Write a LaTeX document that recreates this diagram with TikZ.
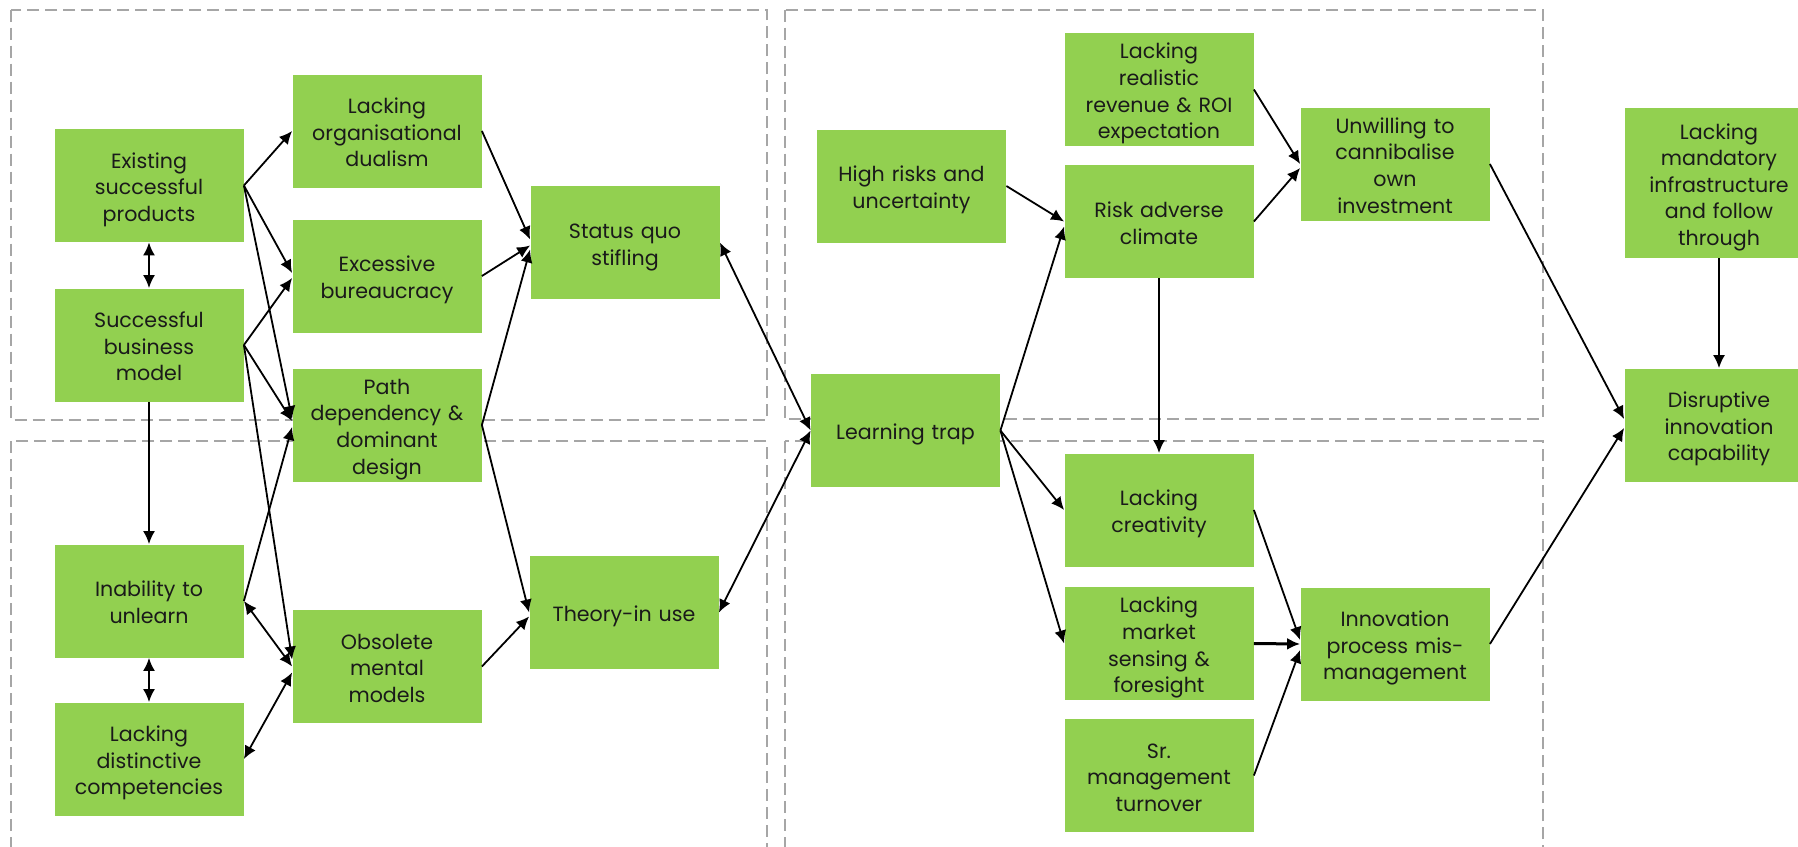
\documentclass[tikz,border=0pt]{standalone}
\usepackage{fontspec}
\setmainfont{Poppins}
\usetikzlibrary{arrows.meta,calc}
\definecolor{boxgreen}{HTML}{92D050}
\definecolor{dashgray}{HTML}{A6A6A6}
\definecolor{txt}{HTML}{1A1A1A}
\begin{document}
\begin{tikzpicture}[x=0.5pt,y=-0.5pt,
  box/.style={fill=boxgreen, draw=none, text=txt, align=center, inner sep=0pt,
    minimum width=94.5pt, minimum height=56.5pt, text width=93pt,
    font=\fontsize{10.3}{13.3}\selectfont,
    execute at begin node={\rule{0pt}{12.2pt}},
    execute at end node={\rule[-3pt]{0pt}{3pt}}},
  tall/.style={minimum height=75pt},
  arr/.style={line width=0.9pt, -{Latex[length=6.5pt,width=6pt]}},
  darr/.style={line width=0.9pt, {Latex[length=6.5pt,width=6pt]}-{Latex[length=6.5pt,width=6pt]}},
  region/.style={draw=dashgray, line width=1pt, dash pattern=on 6pt off 3pt}]
\useasboundingbox (0,0) rectangle (1798,846);
\clip (0,0) rectangle (1798,846);
\fill[white] (0,0) rectangle (1798,846);
% regions
\draw[region] (11,9.5) rectangle (766.5,420);
\draw[region] (11,441) rectangle (766.5,900);
\draw[region] (784.5,9.5) rectangle (1542.5,419);
\draw[region] (784.5,441) rectangle (1542.5,900);
% nodes
\node[box] (exist) at (149,185.5) {Existing\\successful\\products};
\node[box] (sbm) at (149,345) {Successful\\business\\model};
\node[box] (inab) at (149,601) {Inability to\\unlearn};
\node[box] (ldc) at (149,759) {Lacking\\distinctive\\competencies};
\node[box] (lod) at (387,131) {Lacking\\organisational\\dualism};
\node[box] (exb) at (387,276) {Excessive\\bureaucracy};
\node[box] (path) at (387,425) {Path\\dependency \&\\dominant\\design};
\node[box] (omm) at (387,666.5) {Obsolete\\mental\\models};
\node[box] (sqs) at (625,242.5) {Status quo\\stifling};
\node[box] (tiu) at (624,612.5) {Theory-in use};
\node[box] (ltrap) at (905.5,430.5) {Learning trap};
\node[box] (hrisk) at (911.5,186) {High risks and\\uncertainty};
\node[box] (lrr) at (1159,89.5) {Lacking\\realistic\\revenue \& ROI\\expectation};
\node[box] (rac) at (1159,221.5) {Risk adverse\\climate};
\node[box] (unw) at (1395,164) {Unwilling to\\cannibalise\\own\\investment};
\node[box,tall] (lmi) at (1719,183) {Lacking\\mandatory\\infrastructure\\and follow\\through};
\node[box] (dic) at (1719,425) {Disruptive\\innovation\\capability};
\node[box] (lcr) at (1159,510) {Lacking\\creativity};
\node[box] (lms) at (1159,643.5) {Lacking\\market\\sensing \&\\foresight};
\node[box] (srm) at (1159,775.5) {Sr.\\management\\turnover};
\node[box] (ipm) at (1395,644) {Innovation\\process mis-\\management};
% connectors
\draw[darr] (exist) -- (sbm);
\draw[arr] (sbm) -- (inab);
\draw[darr] (inab) -- (ldc);
\draw[arr] (exist.east) -- (lod.west);
\draw[arr] (exist.east) -- ($(exb.west)+(0,-3)$);
\draw[arr] (exist.east) -- ($(path.west)+(0,-6)$);
\draw[arr] (sbm.east) -- ($(exb.west)+(0,2)$);
\draw[arr] (sbm.east) -- ($(path.west)+(0,-4)$);
\draw[arr] (sbm.east) -- ($(omm.west)+(0,-7)$);
\draw[arr] (inab.east) -- ($(path.west)+(0,2)$);
\draw[darr] (inab.east) -- (omm.west);
\draw[darr] (ldc.east) -- ($(omm.west)+(0,6)$);
\draw[arr] (lod.east) -- ($(sqs.west)+(0,-3)$);
\draw[arr] (exb.east) -- ($(sqs.west)+(0,3)$);
\draw[arr] (path.east) -- ($(sqs.west)+(0,7)$);
\draw[arr] (path.east) -- (tiu.west);
\draw[arr] (omm.east) -- ($(tiu.west)+(0,4)$);
\draw[darr] (sqs.east) -- (ltrap.west);
\draw[darr] (tiu.east) -- (ltrap.west);
\draw[arr] (ltrap.east) -- ($(rac.west)+(0,5)$);
\draw[arr] (hrisk.east) -- (rac.west);
\draw[arr] (ltrap.east) -- (lcr.west);
\draw[arr] (ltrap.east) -- (lms.west);
\draw[arr] (lrr.east) -- (unw.west);
\draw[arr] (rac.east) -- ($(unw.west)+(0,4)$);
\draw[arr] (rac) -- (lcr);
\draw[arr] (unw.east) -- ($(dic.west)+(0,-6)$);
\draw[arr] (lmi) -- (dic);
\draw[arr] (lcr.east) -- ($(ipm.west)+(0,-4)$);
\draw[arr, line width=1.5pt] (lms.east) -- (ipm.west);
\draw[arr] (srm.east) -- ($(ipm.west)+(0,6)$);
\draw[arr] (ipm.east) -- ($(dic.west)+(0,3)$);
\end{tikzpicture}
\end{document}
